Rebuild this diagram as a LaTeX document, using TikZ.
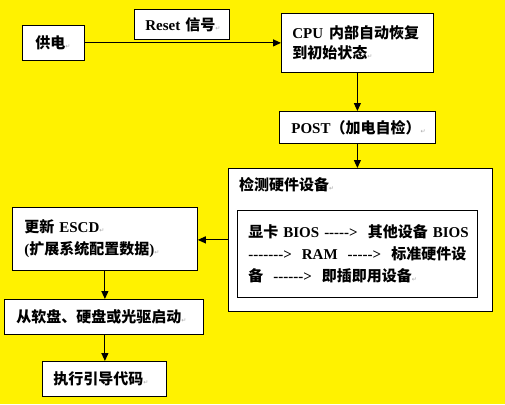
\documentclass[tikz,border=0pt]{standalone}
\usepackage{fontspec}
\setmainfont{Liberation Serif}
\newfontfamily\cjk{Noto Sans CJK SC}
\newfontfamily\symfont{DejaVu Sans}
\usetikzlibrary{arrows.meta}
\newcommand\cn[1]{{\cjk #1}}
\newcommand\pmark{{\symfont\mdseries\fontsize{6}{6}\selectfont\textcolor{black!35}{↵}}}
\newcommand\dashto[1]{\foreach \i in {1,...,#1}{\mbox{-}}\mbox{>}}
\begin{document}
\begin{tikzpicture}[x=1pt, y=-1pt,
    font=\bfseries\fontsize{15pt}{21pt}\selectfont,
    box/.style={draw, line width=0.8pt, fill=white, anchor=north west, align=left, inner ysep=0pt},
    link/.style={line width=1.1pt, -{Triangle[length=8pt,width=7pt]}}]
  \fill [yellow] (0,0) rectangle (505,404);
  % top row
  \node [box, minimum width=62pt, minimum height=35pt, inner xsep=13pt, text width=36pt] (power) at (22,25) {\cn{供电}\pmark};
  \node [box, minimum width=95pt, minimum height=30pt, inner xsep=11pt, text width=73pt] (reset) at (134,9) {Reset~\cn{信号}\pmark};
  \node [box, minimum width=152pt, minimum height=59pt, inner xsep=11pt, text width=130pt, font=\bfseries\fontsize{15pt}{20pt}\selectfont] (cpu) at (281,13)
    {CPU\hspace*{6pt}\cn{内部自动恢复}\\ \cn{到初始状态}\pmark};
  \node [box, minimum width=156pt, minimum height=32pt, inner xsep=12pt, text width=132pt] (post) at (279,111) {POST\cn{（加电自检）}\pmark};
  % hardware check
  \node [box, minimum width=264pt, minimum height=143pt, inner sep=0pt] (detect) at (228,168) {};
  \node [anchor=west, inner sep=0pt] (dtitle) at (239,185) {\cn{检测硬件设备}\pmark};
  \node [box, minimum width=240pt, minimum height=87pt, inner xsep=11pt, text width=218pt, font=\bfseries\fontsize{15pt}{22pt}\selectfont] (order) at (237,210)
    {\cn{显卡}~BIOS~\dashto{5}~~\cn{其他设备}~BIOS\\
     \dashto{7}~~RAM~~\dashto{5}~~\cn{标准硬件设}\\
     \cn{备}~~\dashto{6}~~\cn{即插即用设备}\pmark};
  % left column
  \node [box, minimum width=185pt, minimum height=63pt, inner xsep=12pt, text width=161pt, font=\bfseries\fontsize{15pt}{22pt}\selectfont] (escd) at (12,207)
    {\cn{更新}~ESCD\pmark\\ (\cn{扩展系统配置数据})\pmark};
  \node [box, minimum width=199pt, minimum height=35pt, inner xsep=12pt, text width=175pt] (boot) at (4,299) {\cn{从软盘、硬盘或光驱启动}\pmark};
  \node [box, minimum width=124pt, minimum height=35pt, inner xsep=11pt, text width=102pt] (exec) at (42,361) {\cn{执行引导代码}\pmark};
  % arrows
  \draw [link] (power.east) -- (power.east -| cpu.west);
  \draw [link] (cpu.south) -- (cpu.south |- post.north);
  \draw [link] (post.south) -- (post.south |- detect.north);
  \draw [link] (detect.west) -- (detect.west -| escd.east);
  \draw [link] (escd.south) -- (escd.south |- boot.north);
  \draw [link] (escd.south |- boot.south) -- (escd.south |- exec.north);
\end{tikzpicture}
\end{document}
